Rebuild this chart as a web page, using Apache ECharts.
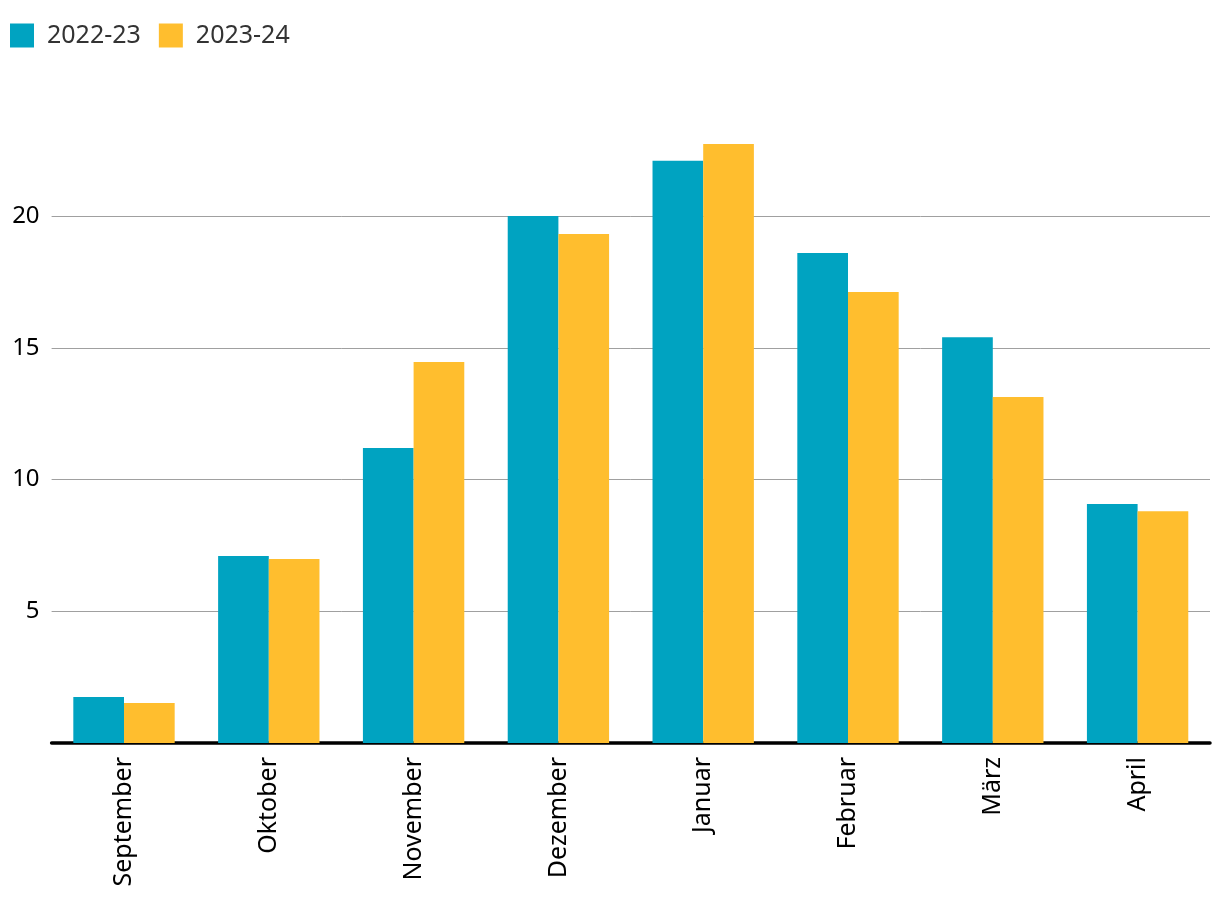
<!DOCTYPE html>
<html><head><meta charset="utf-8">
<script src="https://cdn.jsdelivr.net/npm/echarts@6/dist/echarts.min.js"></script>
<style>html,body{margin:0;padding:0;background:#fff}#c{width:1220px;height:916px}</style>
</head><body><div id="c"></div>
<script>
const categories = ['September','Oktober','November','Dezember','Januar','Februar','März','April'];
const series2223 = [1.75, 7.1, 11.2, 20.0, 22.1, 18.6, 15.4, 9.07];
const series2324 = [1.52, 6.98, 14.46, 19.32, 22.73, 17.12, 13.13, 8.8];
const seriesNames = ['2022-23', '2023-24'];
const FONT = '"Noto Sans", sans-serif';
const chart = echarts.init(document.getElementById('c'));
chart.setOption({
  animation: false,
  textStyle: { fontFamily: FONT },
  legend: {
    left: 10, top: 23, padding: 0, itemWidth: 24, itemHeight: 24, itemGap: 18,
    icon: 'rect',
    textStyle: { fontSize: 25, color: '#333', fontFamily: FONT, padding: [0, 0, 0, 8] }
  },
  grid: { left: 51.6, right: 10, top: 84.3, bottom: 173 },
  xAxis: {
    type: 'category', data: categories,
    axisLine: { lineStyle: { color: '#000', width: 3.5 } },
    axisTick: { show: false },
    axisLabel: { rotate: 90, fontSize: 25, color: '#000', margin: 14, fontFamily: FONT }
  },
  yAxis: {
    type: 'value', min: 0, max: 25, interval: 5,
    axisLine: { show: false }, axisTick: { show: false },
    axisLabel: { fontSize: 24, color: '#000', margin: 12, showMaxLabel: false,
      formatter: v => v === 0 ? '' : String(v), fontFamily: FONT },
    splitLine: { lineStyle: { color: ['#a0a0a0','#a0a0a0','#a0a0a0','#a0a0a0','#a0a0a0','rgba(0,0,0,0)'], width: 1 } }
  },
  series: [
    { name: seriesNames[0], type: 'bar', data: series2223, barGap: '0%', barCategoryGap: '30%', itemStyle: { color: '#00a3c1' } },
    { name: seriesNames[1], type: 'bar', data: series2324, itemStyle: { color: '#ffbe2e' } }
  ]
});
</script></body></html>
